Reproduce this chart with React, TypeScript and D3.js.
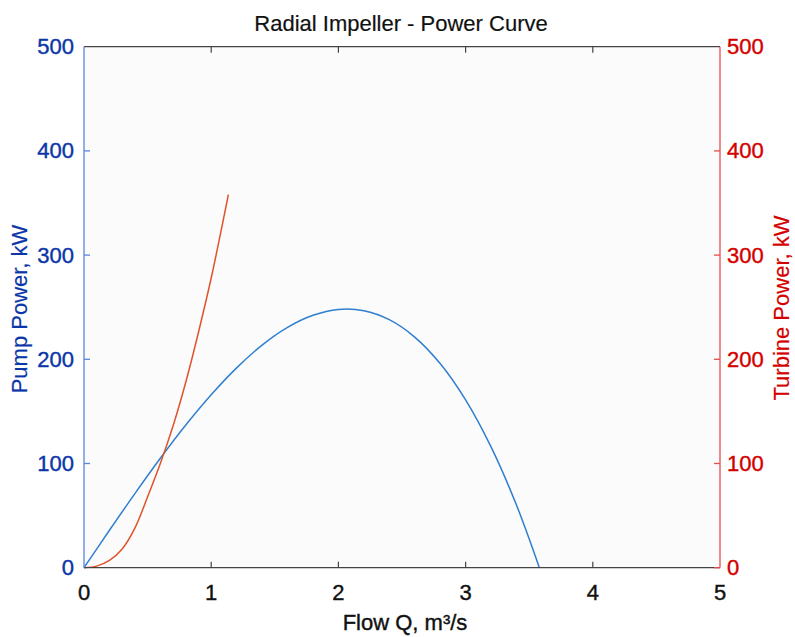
import React from "react";
import * as d3 from "d3";

const W = 795;
const H = 637;

const title = "Radial Impeller - Power Curve";
const xLabel = "Flow Q, m³/s";
const yLeftLabel = "Pump Power, kW";
const yRightLabel = "Turbine Power, kW";

const xTicks = [0, 1, 2, 3, 4, 5];
const yTicks = [0, 100, 200, 300, 400, 500];

// Pump power (blue)
const pumpQ = [0, 0.2, 0.4, 0.6, 0.8, 1.0, 1.2, 1.4, 1.6, 1.8, 2.0, 2.2, 2.4, 2.6, 2.8, 3.0, 3.2, 3.4, 3.58];
const pumpP = [0, 35.9, 71.1, 105.0, 136.9, 166.0, 191.8, 213.6, 230.6, 242.2, 247.8, 246.6, 238.0, 221.3, 195.9, 161.0, 115.9, 60.1, 0];

// Turbine power (red)
const turbQ = [0, 0.1, 0.2, 0.3, 0.4, 0.5, 0.6, 0.7, 0.8, 0.9, 1.0, 1.135];
const turbP = [0, 1.5, 7, 18, 38, 68, 100, 136, 178, 226, 278, 358];

const M = { left: 84, right: 720, top: 46.7, bottom: 567.7 };

export default function App() {
  const x = d3.scaleLinear().domain([0, 5]).range([M.left, M.right]);
  const yL = d3.scaleLinear().domain([0, 500]).range([M.bottom, M.top]);
  const yR = d3.scaleLinear().domain([0, 500]).range([M.bottom, M.top]);

  const pumpLine = d3
    .line<number>()
    .x((_, i) => x(pumpQ[i]))
    .y((d) => yL(d))
    .curve(d3.curveCatmullRom.alpha(0.5))(pumpP) as string;
  const turbLine = d3
    .line<number>()
    .x((_, i) => x(turbQ[i]))
    .y((d) => yR(d))
    .curve(d3.curveCatmullRom.alpha(0.5))(turbP) as string;

  const font = "'Liberation Sans', Arial, Helvetica, sans-serif";
  const blueText = "#0b36a8";
  const redText = "#d40000";
  const axisBlue = "#5a84dc";
  const axisRed = "#e84c4c";
  const tickLen = 6;
  const fs = 22;

  return (
    <svg
      width={W}
      height={H}
      style={{ position: "absolute", left: 0, top: 0, display: "block", background: "#ffffff" }}
      fontFamily={font}
    >
      <rect x={M.left} y={M.top} width={M.right - M.left} height={M.bottom - M.top} fill="#fbfbfb" />

      {/* curves */}
      <path d={pumpLine} fill="none" stroke="#2f7fcf" strokeWidth={1.5} />
      <path d={turbLine} fill="none" stroke="#e0532a" strokeWidth={1.5} />

      {/* top & bottom axes */}
      <line x1={M.left} x2={M.right} y1={M.top} y2={M.top} stroke="#444" strokeWidth={1.2} />
      <line x1={M.left} x2={M.right} y1={M.bottom} y2={M.bottom} stroke="#444" strokeWidth={1.2} />
      {xTicks.map((t) => (
        <g key={"xt" + t}>
          {t > 0 && t < 5 && (
            <>
              <line x1={x(t)} x2={x(t)} y1={M.bottom} y2={M.bottom - tickLen} stroke="#444" strokeWidth={1.2} />
              <line x1={x(t)} x2={x(t)} y1={M.top} y2={M.top + tickLen} stroke="#444" strokeWidth={1.2} />
            </>
          )}
          <text x={x(t)} y={600} textAnchor="middle" fontSize={fs} fill="#111" stroke="#111" strokeWidth={0.4}>
            {t}
          </text>
        </g>
      ))}

      {/* left axis */}
      <line x1={M.left} x2={M.left} y1={M.top} y2={M.bottom} stroke={axisBlue} strokeWidth={1.3} />
      {yTicks.map((t) => (
        <g key={"yl" + t}>
          {t > 0 && t < 500 && (
            <line x1={M.left} x2={M.left + tickLen} y1={yL(t)} y2={yL(t)} stroke={axisBlue} strokeWidth={1.3} />
          )}
          <text x={74} y={yL(t) + 7.5} textAnchor="end" fontSize={fs} fill={blueText} stroke={blueText} strokeWidth={0.4}>
            {t}
          </text>
        </g>
      ))}

      {/* right axis */}
      <line x1={M.right} x2={M.right} y1={M.top} y2={M.bottom} stroke={axisRed} strokeWidth={1.3} />
      {yTicks.map((t) => (
        <g key={"yr" + t}>
          {t < 500 && (
            <line x1={M.right} x2={M.right - tickLen} y1={yR(t)} y2={yR(t)} stroke={axisRed} strokeWidth={1.3} />
          )}
          <text x={727} y={yR(t) + 7.5} textAnchor="start" fontSize={fs} fill={redText} stroke={redText} strokeWidth={0.4}>
            {t}
          </text>
        </g>
      ))}

      {/* labels */}
      <text x={401} y={31} textAnchor="middle" fontSize={fs} fill="#111" stroke="#111" strokeWidth={0.2}>
        {title}
      </text>
      <text x={405} y={630} textAnchor="middle" fontSize={fs} fill="#111" stroke="#111" strokeWidth={0.4}>
        {xLabel}
      </text>
      <text
        transform={`translate(27,309) rotate(-90)`}
        textAnchor="middle"
        fontSize={fs}
        fill={blueText}
        stroke={blueText}
        strokeWidth={0.2}
      >
        {yLeftLabel}
      </text>
      <text
        transform={`translate(789,308) rotate(-90)`}
        textAnchor="middle"
        fontSize={fs}
        fill={redText}
        stroke={redText}
        strokeWidth={0.2}
      >
        {yRightLabel}
      </text>
    </svg>
  );
}
